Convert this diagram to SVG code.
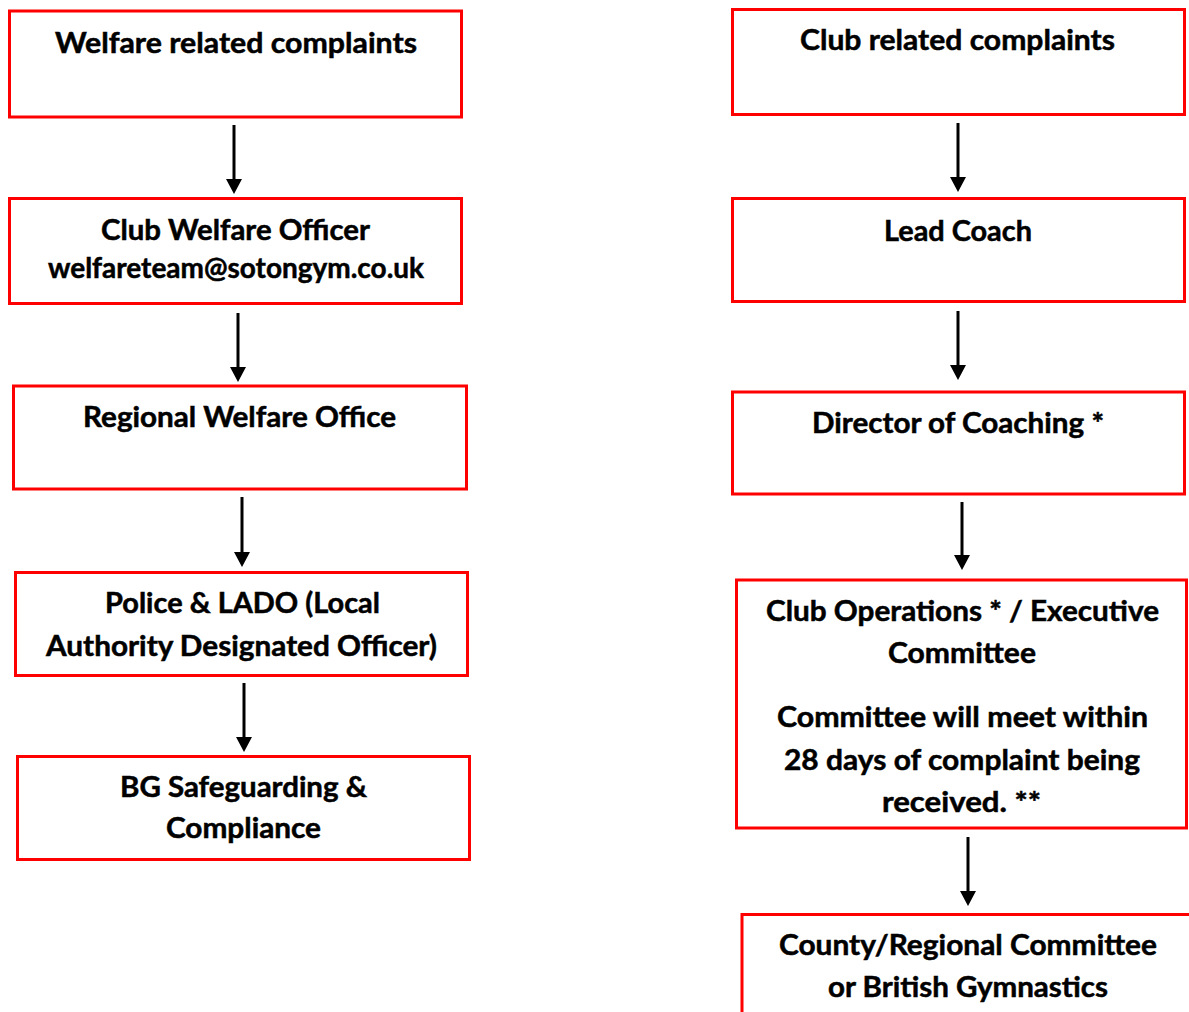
<svg xmlns="http://www.w3.org/2000/svg" width="1189" height="1012" viewBox="0 0 1189 1012">
<style>
.box{fill:#ffffff;stroke:#ff0000;stroke-width:3}
.t{font-family:Lato,"Liberation Sans",sans-serif;font-weight:bold;font-size:28px;fill:#000;stroke:#000;stroke-width:0.5;text-anchor:middle}
.c{stroke:#000;stroke-width:3;fill:none}
.h{fill:#000}
</style>
<rect width="1189" height="1012" fill="#fff"/>
<g id="connectors">
<line class="c" x1="234" y1="125" x2="234" y2="180"/><path class="h" d="M226,179 L242,179 L234,194 Z"/>
<line class="c" x1="238" y1="313" x2="238" y2="368"/><path class="h" d="M230,367 L246,367 L238,382 Z"/>
<line class="c" x1="242" y1="497" x2="242" y2="553"/><path class="h" d="M234,552 L250,552 L242,567 Z"/>
<line class="c" x1="244" y1="683" x2="244" y2="738"/><path class="h" d="M236,737 L252,737 L244,752 Z"/>
<line class="c" x1="958" y1="123" x2="958" y2="178"/><path class="h" d="M950,177 L966,177 L958,192 Z"/>
<line class="c" x1="958" y1="311" x2="958" y2="366"/><path class="h" d="M950,365 L966,365 L958,380 Z"/>
<line class="c" x1="962" y1="502" x2="962" y2="556"/><path class="h" d="M954,555 L970,555 L962,570 Z"/>
<line class="c" x1="968" y1="837" x2="968" y2="892"/><path class="h" d="M960,891 L976,891 L968,906 Z"/>
</g>
<g id="welfare-complaints">
<rect class="box" x="9.5" y="11" width="452" height="106"/>
<text class="t" x="236" y="53" textLength="362" lengthAdjust="spacingAndGlyphs">Welfare related complaints</text>
</g>
<g id="club-welfare-officer">
<rect class="box" x="9.5" y="198.5" width="452" height="105"/>
<text class="t" x="235.5" y="240" textLength="269" lengthAdjust="spacingAndGlyphs">Club Welfare Officer</text>
<text class="t" x="236" y="278" textLength="376" lengthAdjust="spacingAndGlyphs">welfareteam@sotongym.co.uk</text>
</g>
<g id="regional-welfare-office">
<rect class="box" x="13.5" y="386" width="453" height="103"/>
<text class="t" x="239.5" y="427" textLength="313" lengthAdjust="spacingAndGlyphs">Regional Welfare Office</text>
</g>
<g id="police-lado">
<rect class="box" x="15.5" y="572.5" width="452" height="103"/>
<text class="t" x="242.5" y="613" textLength="275" lengthAdjust="spacingAndGlyphs">Police &amp; LADO (Local</text>
<text class="t" x="241.5" y="656" textLength="391" lengthAdjust="spacingAndGlyphs">Authority Designated Officer)</text>
</g>
<g id="bg-safeguarding">
<rect class="box" x="17.5" y="756.5" width="452" height="103"/>
<text class="t" x="243.5" y="797" textLength="247" lengthAdjust="spacingAndGlyphs">BG Safeguarding &amp;</text>
<text class="t" x="243.5" y="838" textLength="155" lengthAdjust="spacingAndGlyphs">Compliance</text>
</g>
<g id="club-complaints">
<rect class="box" x="732.5" y="9.5" width="452" height="105"/>
<text class="t" x="957.5" y="50" textLength="315" lengthAdjust="spacingAndGlyphs">Club related complaints</text>
</g>
<g id="lead-coach">
<rect class="box" x="732.5" y="198.5" width="452" height="103"/>
<text class="t" x="958" y="241" textLength="148" lengthAdjust="spacingAndGlyphs">Lead Coach</text>
</g>
<g id="director-of-coaching">
<rect class="box" x="732.5" y="392" width="452" height="102"/>
<text class="t" x="958" y="433" textLength="292" lengthAdjust="spacingAndGlyphs">Director of Coaching *</text>
</g>
<g id="club-operations">
<rect class="box" x="736.5" y="580" width="450" height="248"/>
<text class="t" x="962.5" y="621" textLength="393" lengthAdjust="spacingAndGlyphs">Club Operations * / Executive</text>
<text class="t" x="962" y="663" textLength="148" lengthAdjust="spacingAndGlyphs">Committee</text>
<text class="t" x="962.5" y="727" textLength="371" lengthAdjust="spacingAndGlyphs">Committee will meet within</text>
<text class="t" x="962" y="770" textLength="356" lengthAdjust="spacingAndGlyphs">28 days of complaint being</text>
<text class="t" x="961.5" y="812" textLength="159" lengthAdjust="spacingAndGlyphs">received. **</text>
</g>
<g id="county-regional">
<rect class="box" x="742" y="914.5" width="470" height="130"/>
<text class="t" x="968" y="955" textLength="378" lengthAdjust="spacingAndGlyphs">County/Regional Committee</text>
<text class="t" x="968" y="997" textLength="280" lengthAdjust="spacingAndGlyphs">or British Gymnastics</text>
</g>
</svg>
